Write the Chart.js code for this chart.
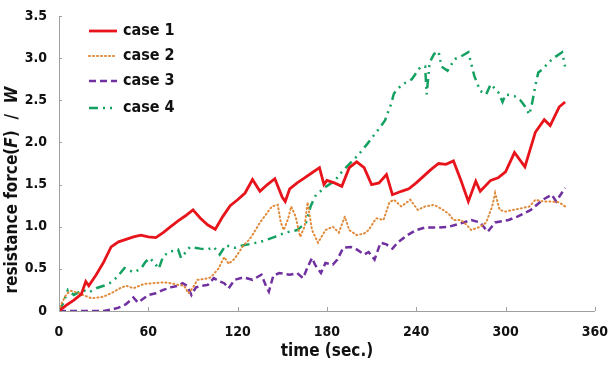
<!DOCTYPE html>
<html>
<head>
<meta charset="utf-8">
<script src="https://cdn.jsdelivr.net/npm/chart.js@4.4.1/dist/chart.umd.min.js"></script>
<style>
  body { margin: 0; background: #fff; }
  #wrap { width: 613px; height: 366px; position: relative; }
</style>
</head>
<body>
<div id="wrap"><canvas id="chart"></canvas></div>
<script>
// Data (time in sec., force / W)
const xTicks = [0, 60, 120, 180, 240, 300, 360];
const yTicks = [0, 0.5, 1, 1.5, 2, 2.5, 3, 3.5];
const caseLabels = ['case 1', 'case 2', 'case 3', 'case 4'];

const case1Time = [0, 5, 10, 15, 18, 20, 25, 30, 35, 40, 45, 50, 55, 60, 65, 70, 75, 80, 85, 90, 95, 100, 105, 110, 115, 120, 125, 130, 135, 140, 145, 150, 152, 155, 160, 165, 170, 175, 178, 180, 185, 190, 195, 200, 205, 210, 215, 220, 224, 230, 235, 240, 245, 250, 255, 260, 265, 270, 275, 280, 283, 290, 295, 300, 306, 313, 320, 326, 330, 336, 340];
const case1Force = [0, 0.07, 0.13, 0.2, 0.35, 0.3, 0.43, 0.58, 0.76, 0.82, 0.85, 0.88, 0.9, 0.88, 0.87, 0.93, 1.0, 1.07, 1.13, 1.2, 1.1, 1.02, 0.97, 1.12, 1.25, 1.32, 1.4, 1.56, 1.42, 1.5, 1.57, 1.35, 1.3, 1.45, 1.52, 1.58, 1.64, 1.7, 1.5, 1.55, 1.52, 1.48, 1.7, 1.77, 1.7, 1.5, 1.52, 1.62, 1.38, 1.42, 1.45, 1.52, 1.6, 1.68, 1.75, 1.74, 1.78, 1.55, 1.3, 1.54, 1.42, 1.55, 1.58, 1.65, 1.88, 1.71, 2.12, 2.27, 2.2, 2.42, 2.48];

const case2Time = [0, 2, 5, 8, 12, 16, 22, 30, 36, 41, 45, 50, 57, 63, 70, 75, 80, 84, 87, 90, 93, 98, 102, 107, 111, 114, 118, 124, 128, 131, 135, 138, 143, 147, 149, 151, 154, 156, 159, 162, 165, 167, 170, 174, 179, 184, 188, 192, 195, 200, 205, 208, 213, 218, 222, 225, 230, 236, 241, 246, 252, 258, 262, 265, 270, 274, 277, 283, 287, 291, 293, 296, 300, 305, 311, 316, 320, 325, 330, 336, 340];
const case2Force = [0, 0.1, 0.2, 0.24, 0.22, 0.19, 0.15, 0.17, 0.22, 0.27, 0.3, 0.27, 0.32, 0.33, 0.34, 0.33, 0.31, 0.3, 0.21, 0.28, 0.37, 0.38, 0.4, 0.5, 0.64, 0.56, 0.62, 0.78, 0.85, 0.93, 1.05, 1.12, 1.24, 1.26, 1.05, 0.96, 1.1, 1.24, 1.12, 0.88, 1.0, 1.29, 0.96, 0.81, 0.96, 1.0, 0.93, 1.12, 0.96, 0.9, 0.92, 0.96, 1.1, 1.08, 1.29, 1.32, 1.24, 1.32, 1.2, 1.24, 1.26, 1.2, 1.15, 1.08, 1.08, 1.02, 0.96, 1.0, 1.05, 1.24, 1.4, 1.2, 1.18, 1.2, 1.22, 1.24, 1.32, 1.3, 1.3, 1.29, 1.24];

const case3Time = [0, 10, 20, 30, 36, 40, 45, 50, 53, 57, 60, 65, 70, 75, 80, 83, 86, 89, 92, 96, 100, 104, 108, 111, 114, 118, 124, 130, 136, 139, 141, 144, 148, 155, 160, 164, 167, 170, 172, 176, 179, 184, 187, 191, 196, 200, 205, 208, 212, 216, 220, 224, 228, 234, 240, 246, 255, 262, 270, 277, 283, 288, 293, 302, 308, 317, 325, 331, 334, 340];
const case3Force = [0, 0, 0, 0, 0.02, 0.04, 0.08, 0.16, 0.1, 0.15, 0.19, 0.21, 0.25, 0.28, 0.3, 0.33, 0.3, 0.19, 0.28, 0.3, 0.31, 0.39, 0.35, 0.33, 0.27, 0.37, 0.4, 0.37, 0.43, 0.3, 0.23, 0.42, 0.45, 0.43, 0.45, 0.39, 0.52, 0.63, 0.55, 0.45, 0.57, 0.55, 0.61, 0.75, 0.76, 0.73, 0.67, 0.7, 0.61, 0.81, 0.79, 0.74, 0.82, 0.9, 0.96, 0.99, 0.99, 1.0, 1.04, 1.08, 1.05, 0.94, 1.05, 1.08, 1.12, 1.2, 1.32, 1.38, 1.3, 1.46];

const case4Time = [0, 3, 6, 10, 16, 20, 25, 30, 34, 39, 44, 50, 55, 58, 61, 65, 67, 70, 74, 80, 82, 88, 95, 100, 104, 108, 112, 118, 124, 130, 137, 145, 152, 160, 166, 169, 172, 178, 185, 190, 196, 201, 207, 214, 219, 223, 225, 230, 237, 243, 246, 247, 249, 252, 255, 257, 261, 266, 270, 275, 279, 283, 287, 290, 295, 298, 300, 306, 310, 313, 316, 318, 320, 322, 325, 329, 333, 338, 340];
const case4Force = [0, 0.1, 0.25, 0.19, 0.25, 0.22, 0.27, 0.3, 0.33, 0.4, 0.51, 0.46, 0.5, 0.58, 0.63, 0.55, 0.5, 0.65, 0.7, 0.73, 0.63, 0.76, 0.74, 0.73, 0.76, 0.67, 0.78, 0.75, 0.78, 0.8, 0.83, 0.88, 0.93, 0.96, 1.05, 1.24, 1.36, 1.46, 1.54, 1.65, 1.76, 1.85, 1.98, 2.14, 2.26, 2.45, 2.58, 2.68, 2.75, 2.9, 2.9, 2.57, 2.95, 3.05, 3.08, 2.9, 2.85, 2.99, 3.02, 3.07, 2.79, 2.61, 2.57, 2.69, 2.6, 2.48, 2.57, 2.55, 2.5, 2.43, 2.33, 2.48, 2.67, 2.83, 2.87, 2.95, 3.01, 3.07, 2.9];

const FONT = "'Liberation Sans Narrow', 'DejaVu Sans Condensed', Arial, sans-serif";

function toPoints(times, values) {
  return times.map((t, i) => ({ x: t, y: values[i] }));
}

// Legend drawn inside the plot, top-left
const insideLegend = {
  id: 'insideLegend',
  afterDraw(chart) {
    const ctx = chart.ctx;
    const rows = [31, 56, 81, 108];
    ctx.save();
    chart.data.datasets.forEach((ds, i) => {
      const y = rows[i];
      ctx.beginPath();
      ctx.strokeStyle = ds.borderColor;
      ctx.lineWidth = ds.borderWidth;
      ctx.lineCap = ds.borderCapStyle || 'butt';
      ctx.setLineDash(ds.borderDash || []);
      ctx.moveTo(89, y);
      ctx.lineTo(117, y);
      ctx.stroke();
      ctx.setLineDash([]);
      ctx.fillStyle = '#111';
      ctx.font = 'bold 16px ' + FONT;
      ctx.textBaseline = 'middle';
      ctx.textAlign = 'left';
      ctx.fillText(ds.label, 123, y);
    });
    ctx.restore();
  }
};

// Y axis title with italic F and W
const yTitle = {
  id: 'yTitle',
  afterDraw(chart) {
    const ctx = chart.ctx;
    const parts = [
      ['resistance force(', false],
      ['F', true],
      [')  /  ', false],
      ['W', true]
    ];
    ctx.save();
    ctx.translate(13, 190);
    ctx.rotate(-Math.PI / 2);
    ctx.fillStyle = '#111';
    ctx.textBaseline = 'middle';
    let total = 0;
    parts.forEach(p => {
      ctx.font = (p[1] ? 'italic ' : '') + 'bold 17px ' + FONT;
      total += ctx.measureText(p[0]).width;
    });
    let x = -total / 2;
    parts.forEach(p => {
      ctx.font = (p[1] ? 'italic ' : '') + 'bold 17px ' + FONT;
      ctx.textAlign = 'left';
      ctx.fillText(p[0], x, 0);
      x += ctx.measureText(p[0]).width;
    });
    ctx.restore();
  }
};

// Small inward tick marks on both axes
const innerTicks = {
  id: 'innerTicks',
  afterDraw(chart) {
    const ctx = chart.ctx;
    const xs = chart.scales.x, ys = chart.scales.y;
    ctx.save();
    ctx.strokeStyle = '#a0a0a0';
    ctx.lineWidth = 1;
    ctx.beginPath();
    xTicks.forEach(t => {
      const px = Math.round(xs.getPixelForValue(t)) + 0.5;
      ctx.moveTo(px, ys.bottom);
      ctx.lineTo(px, ys.bottom - 4);
    });
    yTicks.forEach(v => {
      const py = Math.round(ys.getPixelForValue(v)) + 0.5;
      ctx.moveTo(xs.left, py);
      ctx.lineTo(xs.left + 3, py);
    });
    ctx.stroke();
    ctx.restore();
  }
};

const ctx = document.getElementById('chart').getContext('2d');
new Chart(ctx, {
  type: 'line',
  data: {
    datasets: [
      { label: caseLabels[0], data: toPoints(case1Time, case1Force), borderColor: '#e8141c', borderWidth: 2.8 },
      { label: caseLabels[1], data: toPoints(case2Time, case2Force), borderColor: '#e08a3a', borderWidth: 2, borderDash: [1, 3], borderCapStyle: 'round' },
      { label: caseLabels[2], data: toPoints(case3Time, case3Force), borderColor: '#7030a0', borderWidth: 2.5, borderDash: [7, 4] },
      { label: caseLabels[3], data: toPoints(case4Time, case4Force), borderColor: '#13a060', borderWidth: 2.5, borderDash: [9, 5, 2, 5, 2, 5] }
    ]
  },
  options: {
    responsive: true,
    maintainAspectRatio: false,
    animation: false,
    elements: { point: { radius: 0 }, line: { tension: 0 } },
    layout: { padding: { left: 0, right: 9, top: 16, bottom: 0 } },
    plugins: {
      legend: { display: false },
      tooltip: { enabled: false }
    },
    scales: {
      x: {
        type: 'linear',
        min: 0,
        max: 360,
        afterFit: s => { s.height = 55; },
        afterBuildTicks: s => { s.ticks = xTicks.map(v => ({ value: v })); },
        grid: { display: false },
        border: { display: true, color: '#a0a0a0', width: 1 },
        ticks: { color: '#111', padding: 5, font: { family: FONT, size: 14, weight: 'bold' } },
        title: { display: true, text: 'time (sec.)', color: '#111', padding: { top: 4 }, font: { family: FONT, size: 17, weight: 'bold' } }
      },
      y: {
        min: 0,
        max: 3.5,
        afterFit: s => { s.width = 59; },
        afterBuildTicks: s => { s.ticks = yTicks.map(v => ({ value: v })); },
        grid: { display: false },
        border: { display: true, color: '#a0a0a0', width: 1 },
        ticks: { color: '#111', padding: 4, font: { family: FONT, size: 14, weight: 'bold' } }
      }
    }
  },
  plugins: [insideLegend, yTitle, innerTicks]
});
</script>
</body>
</html>
